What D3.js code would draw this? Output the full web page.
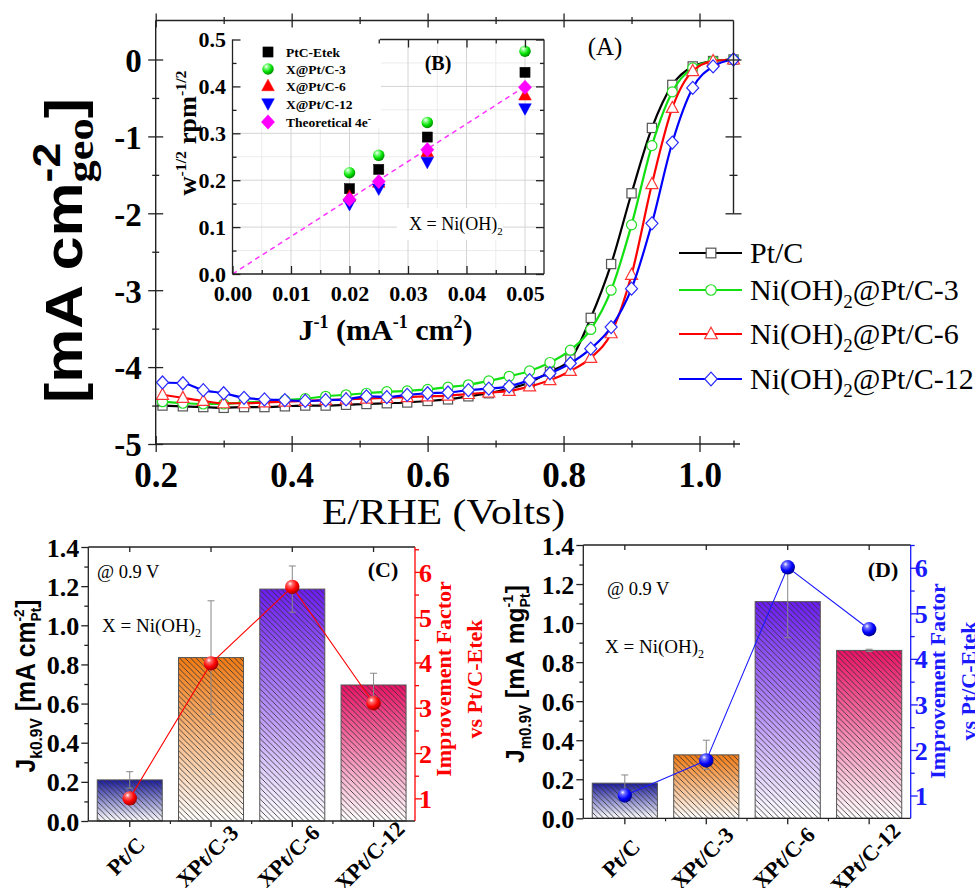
<!DOCTYPE html>
<html><head><meta charset="utf-8">
<script src="https://cdn.jsdelivr.net/npm/d3@7"></script>
<style>body{margin:0;background:#fff} svg{display:block} text{white-space:pre}</style>
</head><body>
<svg id="c" width="975" height="888"></svg>
<script>
// ================= DATA =================
// Panel A : LSV curves
const voltage = [0.21,0.24,0.27,0.30,0.33,0.36,0.39,0.42,0.45,0.48,0.51,0.54,0.57,0.60,0.63,0.66,0.69,0.72,0.75,0.78,0.81,0.84,0.87,0.90,0.93,0.96,0.99,1.02,1.05];
const jPtC   = [-4.50,-4.51,-4.52,-4.53,-4.52,-4.52,-4.51,-4.50,-4.50,-4.49,-4.48,-4.47,-4.46,-4.44,-4.42,-4.38,-4.34,-4.28,-4.20,-4.06,-3.90,-3.36,-2.66,-1.74,-0.89,-0.33,-0.09,-0.02,0];
const jPtC3  = [-4.45,-4.47,-4.48,-4.48,-4.46,-4.45,-4.43,-4.41,-4.38,-4.36,-4.34,-4.32,-4.31,-4.29,-4.26,-4.23,-4.18,-4.12,-4.05,-3.94,-3.78,-3.51,-3.00,-2.15,-1.12,-0.42,-0.11,-0.02,0];
const jPtC6  = [-4.36,-4.40,-4.44,-4.47,-4.47,-4.46,-4.45,-4.44,-4.43,-4.42,-4.41,-4.40,-4.39,-4.38,-4.37,-4.35,-4.33,-4.31,-4.25,-4.17,-4.05,-3.88,-3.56,-2.80,-1.62,-0.63,-0.15,-0.02,0];
const jPtC12 = [-4.20,-4.21,-4.30,-4.34,-4.40,-4.42,-4.43,-4.44,-4.43,-4.42,-4.38,-4.39,-4.36,-4.34,-4.33,-4.30,-4.28,-4.25,-4.17,-4.08,-3.95,-3.76,-3.48,-2.98,-2.13,-1.08,-0.37,-0.09,0];
const seriesNames = ["Pt/C","Ni(OH)2@Pt/C-3","Ni(OH)2@Pt/C-6","Ni(OH)2@Pt/C-12"];
const xTicksA = [0.2,0.4,0.6,0.8,1.0];
const xMinorA = [0.3,0.5,0.7,0.9,1.05];
const yTicksA = [-5,-4,-3,-2,-1,0];
const yMinorA = [-4.5,-3.5,-2.5,-1.5,-0.5];

// Inset B : Koutecky-Levich
const invJ = [0.02,0.025,0.0333,0.05];
const klPtCEtek = [0.182,0.223,0.292,0.430];
const klPtC3    = [0.216,0.253,0.323,0.475];
const klPtC6    = [0.165,0.195,0.260,0.381];
const klPtC12   = [0.149,0.182,0.239,0.353];
const klTheo    = [0.159,0.197,0.265,0.398];
const theoLineX = [0,0.05];
const theoLineY = [0,0.4];
const insetNames = ["PtC-Etek","X@Pt/C-3","X@Pt/C-6","X@Pt/C-12","Theoretical 4e"];
const xTicksB = [0,0.01,0.02,0.03,0.04,0.05];
const yTicksB = [0,0.1,0.2,0.3,0.4,0.5];

// Panels C / D
const categories = ["Pt/C","XPt/C-3","XPt/C-6","XPt/C-12"];
const jk09    = [0.21,0.835,1.185,0.695];
const jk09Err = [0.042,0.29,0.118,0.06];
const impJk   = [1.0,3.98,5.67,3.10];
const jm09    = [0.18,0.325,1.11,0.86];
const jm09Err = [0.042,0.075,0.185,0.006];
const impJm   = [1.0,1.77,6.01,4.65];
const leftTicksCD  = [0,0.2,0.4,0.6,0.8,1.0,1.2,1.4];
const leftMinorCD  = [0.1,0.3,0.5,0.7,0.9,1.1,1.3];
const rightTicksCD = [1,2,3,4,5,6];
const rightMinorCD = [1.5,2.5,3.5,4.5,5.5];

// ================= HELPERS =================
const FS = "'Liberation Serif','Times New Roman',serif";
const FA = "'Liberation Sans',Arial,sans-serif";
const svg = d3.select('#c');
const defs = svg.append('defs');

function ln(g,x1,y1,x2,y2,c='#222',w=1.4){return g.append('line').attr('x1',x1).attr('y1',y1).attr('x2',x2).attr('y2',y2).attr('stroke',c).attr('stroke-width',w);}
function txt(g,x,y,s,o={}){return g.append('text').attr('x',x).attr('y',y)
  .style('font-family',o.ff||FS).style('font-size',(o.fs||20)+'px').style('font-weight',o.fw||'normal')
  .attr('fill',o.fill||'#000').attr('text-anchor',o.anchor||'start').text(s);}
function rich(parent,pieces){
  const g=parent.append('g'); let x=0, prevStart=0;
  pieces.forEach(p=>{
    const t=g.append('text').attr('y',p.dy||0).style('font-family',p.ff||FS).style('font-size',p.fs+'px')
      .style('font-weight',p.fw||'normal').attr('fill',p.fill||'#000').text(p.t);
    const w=t.node().getComputedTextLength();
    if(p.stack){t.attr('x',prevStart); x=Math.max(x,prevStart+w);}
    else {t.attr('x',x); prevStart=x; x+=w;}
  });
  return {g,w:x};
}
function ticksAxis(parent,orient,scale,values,pos,o){
  const gen = orient==='bottom'?d3.axisBottom(scale):orient==='top'?d3.axisTop(scale):orient==='left'?d3.axisLeft(scale):d3.axisRight(scale);
  gen.tickValues(values).tickSizeOuter(0).tickSizeInner(0).tickFormat(o.format||(()=>''));
  const horiz = orient==='bottom'||orient==='top';
  const g=parent.append('g').attr('transform',horiz?`translate(0,${pos})`:`translate(${pos},0)`).call(gen);
  g.select('.domain').remove();
  g.selectAll('.tick line').attr(horiz?'y1':'x1',o.a).attr(horiz?'y2':'x2',o.b).attr('stroke',o.color||'#222').attr('stroke-width',o.sw||1.3);
  const t=g.selectAll('.tick text').style('font-family',o.ff||FS).style('font-size',(o.fs||20)+'px')
     .style('font-weight',o.fw||'bold').attr('fill',o.fill||'#000');
  if(horiz){ if(o.ty!==undefined) t.attr('y',o.ty).attr('dy',0); }
  else { if(o.tx!==undefined) t.attr('x',o.tx); t.attr('dy',o.dy||'0.36em'); if(o.anchor) t.attr('text-anchor',o.anchor); }
  return g;
}
function marker(g,type,x,y,stroke,fill,s=1,sw=1.2){
  let p;
  if(type==='square') p=g.append('rect').attr('x',x-4.6*s).attr('y',y-4.6*s).attr('width',9.2*s).attr('height',9.2*s);
  else if(type==='circle') p=g.append('circle').attr('cx',x).attr('cy',y).attr('r',5*s);
  else {
    const d = type==='tri' ? `M0,${-6.5*s}L${6*s},${4.5*s}L${-6*s},${4.5*s}Z`
            : type==='tridown' ? `M0,${6.5*s}L${6*s},${-4.5*s}L${-6*s},${-4.5*s}Z`
            : `M0,${-6.5*s}L${6*s},0L0,${6.5*s}L${-6*s},0Z`;
    p=g.append('path').attr('d',d).attr('transform',`translate(${x},${y})`);
  }
  return p.attr('fill',fill).attr('stroke',stroke).attr('stroke-width',sw);
}
function sphereGrad(id,c0,c1,c2){
  const rg=defs.append('radialGradient').attr('id',id).attr('cx','0.38').attr('cy','0.32').attr('r','0.68').attr('fx','0.35').attr('fy','0.28');
  [[0,'#ffffff'],[0.22,c0],[0.65,c1],[1,c2]].forEach(s=>rg.append('stop').attr('offset',s[0]).attr('stop-color',s[1]));
}
sphereGrad('sRed','#ff7070','#ff0000','#a00000');
sphereGrad('sBlue','#7070ff','#0000ff','#00008a');
sphereGrad('sGreen','#90ff90','#00e000','#008a00');
const barTop=['#1b1b9c','#f27a12','#6b1cf0','#ea1266'];
barTop.forEach((c,i)=>{
  const lg=defs.append('linearGradient').attr('id','bar'+i).attr('x1',0).attr('y1',0).attr('x2',0).attr('y2',1);
  lg.append('stop').attr('offset',0).attr('stop-color',c);
  lg.append('stop').attr('offset',1).attr('stop-color','#ffffff');
});
const hp=defs.append('pattern').attr('id','hatch').attr('patternUnits','userSpaceOnUse').attr('width',5.5).attr('height',5.5);
hp.append('path').attr('d','M-1,-1L6.5,6.5M-1,4.5L1,6.5M4.5,-1L6.5,1').attr('stroke','#333').attr('stroke-width',0.85);

// ================= PANEL A =================
const AX={l:155.7,r:733.5,t:20.5,b:444};
const xA=d3.scaleLinear().domain([0.2,1.05]).range([AX.l,AX.r]);
const yA=d3.scaleLinear().domain([-5,0]).range([AX.b,59.5]);
const gA=svg.append('g');

const seriesA=[
 {vals:jPtC,  color:'#000000', mc:'#555555', m:'square'},
 {vals:jPtC3, color:'#11e011', mc:'#22dd22', m:'circle'},
 {vals:jPtC6, color:'#ff0000', mc:'#ff3333', m:'tri'},
 {vals:jPtC12,color:'#0000ff', mc:'#2a2aff', m:'diamond'}
];
const lineA=d3.line().x((d,i)=>xA(voltage[i])).y(d=>yA(d)).curve(d3.curveMonotoneX);
seriesA.forEach(s=>{
  gA.append('path').attr('d',lineA(s.vals)).attr('fill','none').attr('stroke',s.color).attr('stroke-width',2.2);
  s.vals.forEach((v,i)=>marker(gA,s.m,xA(voltage[i]),yA(v),s.mc,'#fff',1,1.2));
});

// frame
ln(gA,AX.l,AX.t,AX.l,AX.b); ln(gA,AX.l,AX.b,740,AX.b); ln(gA,AX.l,AX.t,AX.r,AX.t); ln(gA,AX.r,AX.t,AX.r,yA(-2));
ticksAxis(gA,'bottom',xA,xTicksA,AX.b,{a:-8,b:8,format:d3.format('.1f'),ty:43,fs:35});
ticksAxis(gA,'bottom',xA,xMinorA,AX.b,{a:-3.5,b:3.5});
ticksAxis(gA,'top',xA,xTicksA,AX.t,{a:-7,b:7});
ticksAxis(gA,'top',xA,xMinorA.slice(0,4),AX.t,{a:-3.5,b:3.5});
ticksAxis(gA,'left',yA,yTicksA,AX.l,{a:-7.5,b:7.5,format:d=>String(d),tx:-14,fs:33,dy:'0.36em'});
ticksAxis(gA,'left',yA,yMinorA,AX.l,{a:-3.5,b:3.5});
ticksAxis(gA,'right',yA,[-2,-1,0],AX.r,{a:-8,b:8});
ticksAxis(gA,'right',yA,[-1.5,-0.5],AX.r,{a:-4,b:4});

// axis titles
{
  const r=rich(gA,[
    {t:'[mA cm',fs:52,fw:'bold',ff:FA},
    {t:'-2',fs:38,fw:'bold',ff:FA,dy:-22},
    {t:'geo',fs:38,fw:'bold',ff:FS,dy:11,stack:true},
    {t:']',fs:52,fw:'bold',ff:FA}
  ]);
  const L=305, sx=L/r.w;
  r.g.attr('transform',`translate(82,${98+L}) rotate(-90) scale(${sx},1)`);
}
{
  const t=txt(gA,443.5,524,'E/RHE (Volts)',{fs:36,anchor:'middle'});
  t.attr('textLength',243).attr('lengthAdjust','spacingAndGlyphs');
}
txt(gA,605,55,'(A)',{fs:25,anchor:'middle'});

// legend A
const legRows=[253,290,334,379];
seriesA.forEach((s,i)=>{
  const y=legRows[i];
  ln(gA,679,y,742,y,s.color,2.2);
  marker(gA,s.m,711,y,s.mc,'#fff',1.05,1.2);
  const nm=seriesNames[i];
  let pieces;
  if(nm.indexOf('(OH)2')>=0){
    const parts=nm.split('(OH)2');
    pieces=[{t:parts[0]+'(OH)',fs:30},{t:'2',fs:19,dy:8},{t:parts[1],fs:30}];
  } else pieces=[{t:nm,fs:30}];
  const r=rich(gA,pieces);
  r.g.attr('transform',`translate(750,${y+10})`);
});

// ================= INSET B =================
const gB=svg.append('g');
const BX={l:232.5,r:544,t:39.5,b:274};
const xB=d3.scaleLinear().domain([0,0.05]).range([BX.l,525]);
const yB=d3.scaleLinear().domain([0,0.5]).range([BX.b,BX.t]);
// grid
[0.005,0.015,0.025,0.035,0.045].forEach(v=>ln(gB,xB(v),BX.t,xB(v),BX.b,'#ececec',1));
[0.05,0.15,0.25,0.35,0.45].forEach(v=>ln(gB,BX.l,yB(v),BX.r,yB(v),'#ececec',1));
xTicksB.slice(1).forEach(v=>ln(gB,xB(v),BX.t,xB(v),BX.b,'#d4d4d4',1));
yTicksB.slice(1).forEach(v=>ln(gB,BX.l,yB(v),BX.r,yB(v),'#d4d4d4',1));
// white boxes
gB.append('rect').attr('x',BX.l+1).attr('y',33).attr('width',380-BX.l).attr('height',95).attr('fill','#fff');
gB.append('rect').attr('x',397).attr('y',208).attr('width',106).attr('height',32).attr('fill','#fff');
// theoretical line
gB.append('path').attr('d',d3.line().x((d,i)=>xB(theoLineX[i])).y(d=>yB(d))(theoLineY))
  .attr('fill','none').attr('stroke','#ff33ff').attr('stroke-width',1.5).attr('stroke-dasharray','5,4');
// markers
const seriesB=[
 {vals:klPtCEtek,m:'square',fill:'#000',stroke:'#000'},
 {vals:klPtC3,m:'circle',fill:'url(#sGreen)',stroke:'none'},
 {vals:klPtC6,m:'tri',fill:'#ff0000',stroke:'#ff0000'},
 {vals:klPtC12,m:'tridown',fill:'#0000ff',stroke:'#0000ff'},
 {vals:klTheo,m:'diamond',fill:'#ff00ff',stroke:'#ff00ff'}
];
const bScale={square:1.1,circle:1.15,tri:1.05,tridown:1.05,diamond:1.1};
seriesB.forEach(s=>s.vals.forEach((v,i)=>marker(gB,s.m,xB(invJ[i]),yB(v),s.stroke,s.fill,bScale[s.m],0.5)));
// frame + ticks
ln(gB,BX.l,BX.t,BX.l,BX.b,'#222',1.3); ln(gB,BX.l,BX.b,BX.r,BX.b,'#222',1.3);
ln(gB,BX.r,BX.t,BX.r,BX.b,'#222',1.3); ln(gB,380,BX.t,BX.r,BX.t,'#222',1.3);
ticksAxis(gB,'bottom',xB,xTicksB,BX.b,{a:-8,b:0,format:d3.format('.2f'),ty:27,fs:22});
ticksAxis(gB,'bottom',xB,[0.005,0.015,0.025,0.035,0.045],BX.b,{a:-4,b:0});
ticksAxis(gB,'left',yB,yTicksB,BX.l,{a:0,b:8,format:d3.format('.1f'),tx:-6.5,fs:22,dy:'0.33em'});
ticksAxis(gB,'left',yB,[0.05,0.15,0.25,0.35,0.45],BX.l,{a:0,b:4});
ticksAxis(gB,'right',yB,yTicksB,BX.r,{a:-8,b:0});
ticksAxis(gB,'right',yB,[0.05,0.15,0.25,0.35,0.45],BX.r,{a:-4,b:0});
ticksAxis(gB,'top',xB,xTicksB.filter(v=>xB(v)>380),BX.t,{a:0,b:8});
ticksAxis(gB,'top',xB,[0.025,0.035,0.045],BX.t,{a:0,b:4});
// legend B
const legB=[52,69,86,103.5,122];
seriesB.forEach((s,i)=>{
  marker(gB,s.m,268,legB[i],s.stroke,s.fill,bScale[s.m],0.5);
  if(i===4){ const r=rich(gB,[{t:'Theoretical 4e',fs:13.5,fw:'bold'},{t:'-',fs:10,fw:'bold',dy:-5}]); r.g.attr('transform',`translate(286,${legB[i]+5})`); }
  else txt(gB,286,legB[i]+5,insetNames[i],{fs:13.5,fw:'bold'});
});
txt(gB,438,70,'(B)',{fs:20,fw:'bold',anchor:'middle'});
{ const r=rich(gB,[{t:'X = Ni(OH)',fs:18},{t:'2',fs:11,dy:5}]); r.g.attr('transform','translate(409,230)'); }
// inset titles
{ const r=rich(gB,[{t:'J',fs:30,fw:'bold'},{t:'-1',fs:18,fw:'bold',dy:-12},{t:' (mA',fs:30,fw:'bold'},
   {t:'-1',fs:18,fw:'bold',dy:-12},{t:' cm',fs:30,fw:'bold'},{t:'2',fs:18,fw:'bold',dy:-12},{t:')',fs:30,fw:'bold'}]);
  r.g.attr('transform',`translate(${385.5-r.w/2},340)`); }
{ const r=rich(gB,[{t:'w',fs:25,fw:'bold'},{t:'-1/2',fs:15,fw:'bold',dy:-10},{t:' rpm',fs:25,fw:'bold'},{t:'-1/2',fs:15,fw:'bold',dy:-10}]);
  const sx=125/r.w; r.g.attr('transform',`translate(196,${133+62.5}) rotate(-90) scale(${sx},1)`); }

// ================= PANELS C / D =================
function barPanel(P,vals,errs,imp,o){
  const g=svg.append('g');
  const x=d3.scaleBand().domain(categories).range([P.l,P.r]).paddingInner(0.2).paddingOuter(0.11);
  const y=d3.scaleLinear().domain([0,1.4]).range([P.b,P.t]);
  const y2=d3.scaleLinear().domain([0.5,P.rMax]).range([P.b,P.t]);
  const bw=x.bandwidth();
  categories.forEach((c,i)=>{
    const bx=x(c), by=y(vals[i]), bh=P.b-by;
    g.append('rect').attr('x',bx).attr('y',by).attr('width',bw).attr('height',bh).attr('fill',`url(#bar${i})`);
    g.append('rect').attr('x',bx).attr('y',by).attr('width',bw).attr('height',bh).attr('fill','url(#hatch)');
    g.append('rect').attr('x',bx).attr('y',by).attr('width',bw).attr('height',bh).attr('fill','none').attr('stroke','#555').attr('stroke-width',1);
  });
  categories.forEach((c,i)=>{
    const cx=x(c)+bw/2, y1=y(vals[i]+errs[i]), y0=y(vals[i]-errs[i]);
    ln(g,cx,y1,cx,y0,'#888',1); ln(g,cx-3.5,y1,cx+3.5,y1,'#888',1); ln(g,cx-3.5,y0,cx+3.5,y0,'#888',1);
  });
  const line=d3.line().x((d,i)=>x(categories[i])+bw/2).y(d=>y2(d));
  g.append('path').attr('d',line(imp)).attr('fill','none').attr('stroke',o.color).attr('stroke-width',1.1);
  imp.forEach((v,i)=>g.append('circle').attr('cx',x(categories[i])+bw/2).attr('cy',y2(v)).attr('r',7.2).attr('fill',`url(#${o.sphere})`));
  // frame
  ln(g,P.l,P.t,P.l,P.b,'#222',1.3); ln(g,P.l,P.b,P.r,P.b,'#222',1.3); ln(g,P.l,P.t,P.r,P.t,'#222',1.3);
  ln(g,P.r,P.t,P.r,P.b,o.color,1.3);
  ticksAxis(g,'left',y,leftTicksCD,P.l,{a:-7,b:0,format:d3.format('.1f'),tx:-9,fs:26,dy:'0.35em'});
  ticksAxis(g,'left',y,leftMinorCD,P.l,{a:-4,b:0});
  const gb=ticksAxis(g,'bottom',x,categories,P.b,{a:0,b:6,format:d=>d,fs:22});
  gb.selectAll('.tick text').attr('text-anchor','middle').attr('x',0).attr('y',0).attr('dy','0.35em')
    .attr('transform',`translate(-4,${o.labY-P.b}) rotate(-45)`);
  const mids=categories.slice(1).map((c,i)=>(x(categories[i])+x(c))/2+bw/2);
  mids.forEach(m=>ln(g,m,P.b,m,P.b+3,'#222',1.2));
  ticksAxis(g,'top',x,categories,P.t,{a:0,b:5,format:()=>''});
  ticksAxis(g,'right',y2,rightTicksCD,P.r,{a:0,b:7,color:o.color,format:d=>String(d),tx:4,anchor:'start',fs:26,fill:o.color,dy:'0.35em'});
  ticksAxis(g,'right',y2,rightMinorCD.concat(P.rMax>=6.5?[6.5]:[]),P.r,{a:0,b:4,color:o.color});
  // left title
  const r=rich(g,o.title);
  const sx=o.titleLen/r.w;
  r.g.attr('transform',`translate(${o.titleX},${o.titleCY+o.titleLen/2}) rotate(-90) scale(${sx},1)`);
  // right title
  [['Improvement Factor',o.rt1],['vs Pt/C-Etek',o.rt2]].forEach(([s,bx])=>{
    txt(g,0,0,s,{fs:22,fw:'bold',fill:o.color,anchor:'middle'}).attr('transform',`translate(${bx},${o.rtCY}) rotate(-90)`);
  });
  // annotations
  txt(g,o.at[0],o.at[1],'@ 0.9 V',{fs:18.5});
  const rx=rich(g,[{t:'X = Ni(OH)',fs:19},{t:'2',fs:12,dy:5}]); rx.g.attr('transform',`translate(${o.xt[0]},${o.xt[1]})`);
  txt(g,o.lt[0],o.lt[1],o.letter,{fs:22,fw:'bold',anchor:'middle'});
}
barPanel({l:88.3,r:415,t:547,b:821,rMax:6.55},jk09,jk09Err,impJk,{
  color:'#ff0000',sphere:'sRed',labY:856,
  title:[{t:'J',fs:27,fw:'bold',ff:FA},{t:'k0.9V',fs:17,fw:'bold',ff:FA,dy:7},{t:' [mA cm',fs:27,fw:'bold',ff:FA},
         {t:'-2',fs:15,fw:'bold',ff:FA,dy:-11},{t:'Pt',fs:15,fw:'bold',ff:FA,dy:6,stack:true},{t:']',fs:27,fw:'bold',ff:FA}],
  titleX:35,titleCY:686,titleLen:173,
  rt1:451,rt2:482,rtCY:679,
  at:[97,578],xt:[102,632],lt:[383,577],letter:'(C)'
});
barPanel({l:583.3,r:910.7,t:545,b:818.3,rMax:6.5},jm09,jm09Err,impJm,{
  color:'#1a1aff',sphere:'sBlue',labY:858,
  title:[{t:'J',fs:26,fw:'bold',ff:FA},{t:'m0.9V',fs:16,fw:'bold',ff:FA,dy:7},{t:' [mA mg',fs:26,fw:'bold',ff:FA},
         {t:'-1',fs:15,fw:'bold',ff:FA,dy:-11},{t:'Pt',fs:15,fw:'bold',ff:FA,dy:6,stack:true},{t:']',fs:26,fw:'bold',ff:FA}],
  titleX:524,titleCY:674,titleLen:178,
  rt1:945,rt2:976,rtCY:681,
  at:[607,595],xt:[605,653],lt:[883,577],letter:'(D)'
});
</script>
</body></html>
